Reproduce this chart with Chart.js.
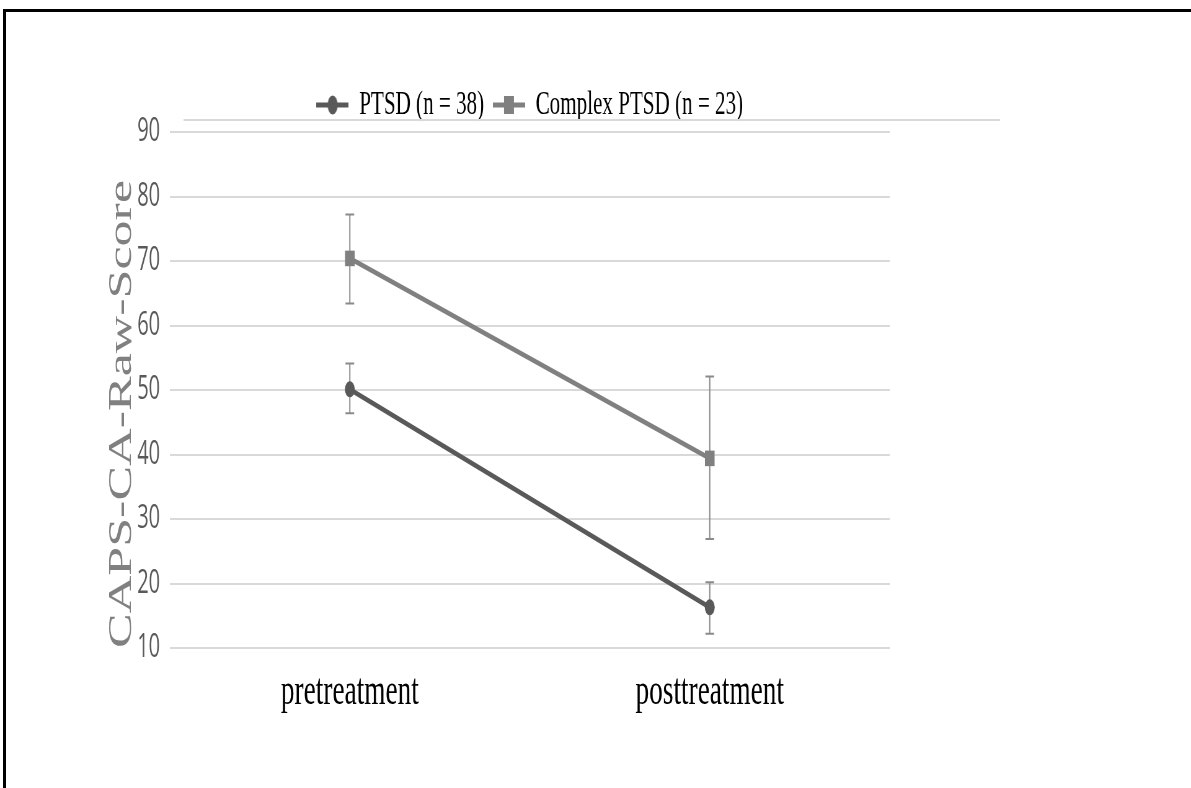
<!DOCTYPE html>
<html>
<head>
<meta charset="utf-8">
<script src="https://cdn.jsdelivr.net/npm/chart.js@4.4.0/dist/chart.umd.min.js"></script>
<style>
  html, body { margin: 0; padding: 0; background: #fff; overflow: hidden; }
  #frame {
    position: absolute; left: 3px; top: 9px; width: 1200px; height: 800px;
    border-top: 3px solid #000; border-left: 3px solid #000;
  }
  /* the original picture is squeezed sideways, so draw wide and squeeze */
  #wrap {
    position: absolute; left: 0; top: 0; width: 1921px; height: 788px;
    transform: scaleX(0.62); transform-origin: 0 0;
  }
</style>
</head>
<body>
<div id="frame"></div>
<div id="wrap"><canvas id="chart"></canvas></div>
<script>
const categories = ['pretreatment', 'posttreatment'];
const seriesNames = ['PTSD (n = 38)', 'Complex PTSD (n = 23)'];

const ptsdMeans = [50.1, 16.3];
const ptsdLow = [46.4, 12.2];
const ptsdHigh = [54.1, 20.2];

const complexMeans = [70.4, 39.4];
const complexLow = [63.4, 26.9];
const complexHigh = [77.2, 52.1];

const yTicks = [10, 20, 30, 40, 50, 60, 70, 80, 90];

const darkGrey = '#595959';
const midGrey = '#808080';

// little line-with-marker icons for the legend
function legendIcon(color, shape) {
  const c = document.createElement('canvas');
  c.width = 52; c.height = 24;
  const ctx = c.getContext('2d');
  ctx.strokeStyle = color;
  ctx.lineWidth = 5;
  ctx.beginPath();
  ctx.moveTo(0, 12);
  ctx.lineTo(52, 12);
  ctx.stroke();
  ctx.fillStyle = color;
  if (shape === 'circle') {
    ctx.beginPath();
    ctx.ellipse(26, 12, 8, 9.5, 0, 0, Math.PI * 2);
    ctx.fill();
  } else {
    ctx.fillRect(18, 3, 16, 18);
  }
  return c;
}
const legendIcons = [legendIcon(darkGrey, 'circle'), legendIcon(midGrey, 'rect')];

const errorBars = {
  id: 'errorBars',
  beforeDatasetsDraw(chart) {
    const ctx = chart.ctx;
    const y = chart.scales.y;
    ctx.save();
    ctx.strokeStyle = '#8a8a8a';
    ctx.lineWidth = 2;
    chart.data.datasets.forEach((ds, i) => {
      const meta = chart.getDatasetMeta(i);
      meta.data.forEach((pt, j) => {
        const top = y.getPixelForValue(ds.high[j]);
        const bot = y.getPixelForValue(ds.low[j]);
        ctx.beginPath();
        ctx.moveTo(pt.x, top); ctx.lineTo(pt.x, bot);
        ctx.moveTo(pt.x - 7, top); ctx.lineTo(pt.x + 7, top);
        ctx.moveTo(pt.x - 7, bot); ctx.lineTo(pt.x + 7, bot);
        ctx.stroke();
      });
    });
    ctx.restore();
  },
  afterDraw(chart) {
    // stray rule under the legend in the original
    const a = chart.chartArea;
    const ctx = chart.ctx;
    ctx.save();
    ctx.strokeStyle = '#d9d9d9';
    ctx.lineWidth = 2;
    ctx.beginPath();
    ctx.moveTo(a.left + 22, a.top - 12);
    ctx.lineTo(a.right + 178, a.top - 12);
    ctx.stroke();
    ctx.restore();
  }
};

new Chart(document.getElementById('chart'), {
  type: 'line',
  data: {
    labels: categories,
    datasets: [
      {
        label: seriesNames[0],
        data: ptsdMeans,
        low: ptsdLow,
        high: ptsdHigh,
        borderColor: darkGrey,
        backgroundColor: darkGrey,
        borderWidth: 5,
        pointStyle: 'circle',
        pointRadius: 8,
        pointHoverRadius: 8,
        pointBorderWidth: 0
      },
      {
        label: seriesNames[1],
        data: complexMeans,
        low: complexLow,
        high: complexHigh,
        borderColor: midGrey,
        backgroundColor: midGrey,
        borderWidth: 5,
        pointStyle: 'rect',
        pointRadius: 11,
        pointHoverRadius: 11,
        pointBorderWidth: 0
      }
    ]
  },
  options: {
    responsive: true,
    maintainAspectRatio: false,
    animation: false,
    layout: { padding: { left: 150, right: 486, top: 74, bottom: 30 } },
    plugins: {
      tooltip: { enabled: false },
      legend: {
        position: 'top',
        fullSize: false,
        labels: {
          usePointStyle: true,
          pointStyleWidth: 52,
          padding: 14,
          color: '#000',
          font: { family: 'Liberation Serif', size: 34 },
          generateLabels(chart) {
            const items = Chart.defaults.plugins.legend.labels.generateLabels(chart);
            items.forEach((it, i) => { it.pointStyle = legendIcons[i]; });
            return items;
          }
        }
      }
    },
    scales: {
      x: {
        offset: true,
        grid: { display: false },
        border: { display: false },
        ticks: {
          color: '#000',
          padding: 10,
          font: { family: 'Liberation Serif', size: 44 }
        },
        afterFit(scale) { scale.height = 110; }
      },
      y: {
        min: 10,
        max: 90,
        afterBuildTicks(scale) { scale.ticks = yTicks.map(v => ({ value: v })); },
        grid: { color: '#d9d9d9', lineWidth: 2, drawTicks: false },
        border: { display: false },
        ticks: {
          color: darkGrey,
          padding: 16,
          font: { family: 'Open Sans', size: 32 }
        },
        title: {
          display: true,
          text: 'CAPS-CA-Raw-Score',
          align: 'start',
          color: midGrey,
          padding: { top: 16, bottom: 0 },
          font: { family: 'Liberation Serif', size: 52 }
        },
        afterFit(scale) { scale.width = 124; }
      }
    }
  },
  plugins: [errorBars]
});
</script>
</body>
</html>
